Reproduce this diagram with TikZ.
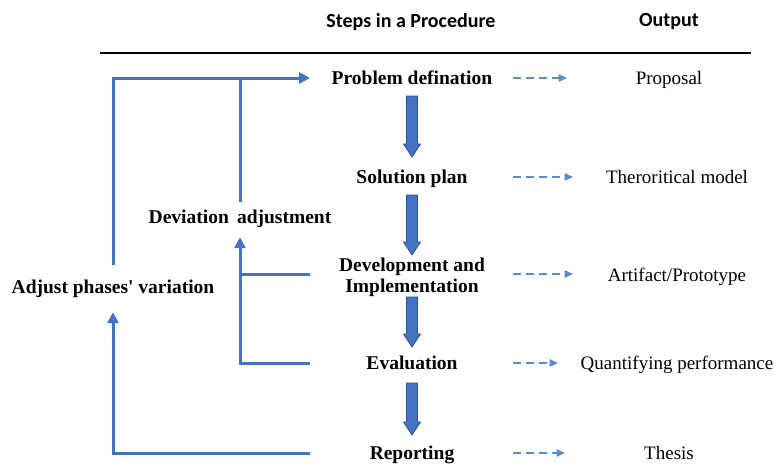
\documentclass[tikz,border=0pt]{standalone}
\usepackage{fontspec}
\setmainfont{Liberation Serif}
\newfontfamily\headfont{Carlito}
\usetikzlibrary{arrows.meta,calc}

\definecolor{flowblue}{HTML}{4472C4}
\definecolor{dashblue}{HTML}{5B8BD6}
\definecolor{edgeblue}{HTML}{2F528F}

\tikzset{
  header/.style={font=\headfont\bfseries\fontsize{20}{22}\selectfont, inner sep=0pt},
  % equal box heights keep every row's centre at the middle of the capitals
  rowtext/.style={inner sep=0pt, text height=17.5pt, text depth=4.5pt},
  stepnode/.style={rowtext, font=\bfseries\fontsize{19.5}{21}\selectfont, align=center},
  outnode/.style={rowtext, font=\fontsize{19}{21}\selectfont},
  sidenote/.style={font=\bfseries\fontsize{19.5}{21}\selectfont, inner sep=0pt, anchor=base},
  feedback/.style={draw=flowblue, line width=3pt},
  fbtip/.style={-{Triangle[width=11pt,length=11pt]}},
  outarrow/.style={draw=dashblue, line width=1.3pt, dash pattern=on 8pt off 5pt,
    -{Triangle[width=7.5pt,length=8.5pt]}},
  blockarrow/.style={fill=flowblue, draw=edgeblue, line width=0.8pt, line join=miter}
}

% block arrow running down from the first point to the second
\newcommand{\downblock}[2]{%
  \path[blockarrow] let \p1=#1, \p2=#2 in
    (\x1-5.5pt,\y1) -- (\x1+5.5pt,\y1) -- (\x1+5.5pt,\y2+13pt) -- (\x1+8.5pt,\y2+13pt)
    -- (\x1,\y2) -- (\x1-8.5pt,\y2+13pt) -- (\x1-5.5pt,\y2+13pt) -- cycle;}

\begin{document}
\begin{tikzpicture}[x=1pt,y=-1pt]
  \useasboundingbox (0,0) rectangle (775,464);

  % column headers and rule
  \node[header] (hsteps) at (411,22) {Steps in a Procedure};
  \node[header] (hout) at (669,22) {Output};
  \coordinate (ruleL) at (100,53);
  \coordinate (ruleR) at (751,53);
  \draw[line width=2.4pt] (ruleL) -- (ruleR);

  % steps
  \node[stepnode] (prob) at (412,78) {Problem defination};
  \node[stepnode] (sol)  at (412,177) {Solution plan};
  \node[stepnode, text height={}, text depth={}] (dev) at (412,277) {Development and\\Implementation};
  \node[stepnode] (eval) at (412,363) {Evaluation};
  \node[stepnode] (rep)  at (412,453) {Reporting};
  \coordinate (devrow) at ([yshift=3pt]dev.center);

  % outputs
  \node[outnode] (oprob) at (669,78)  {Proposal};
  \node[outnode] (osol)  at (677,177) {Theroritical model};
  \node[outnode] (odev)  at (677,274.5) {Artifact/Prototype};
  \node[outnode] (oeval) at (677,363) {Quantifying performance};
  \node[outnode] (orep)  at (669,453) {Thesis};

  % side labels; box height sets where the loop lines stop
  \node[sidenote, text height=21pt, text depth=14pt] (devadj) at (240,223) {Deviation\, adjustment};
  \node[sidenote, text height=28pt, text depth=19pt] (adj) at (113,293) {Adjust phases\textquotesingle\ variation};

  % block arrows between steps
  \coordinate (acol) at (412,0);
  \downblock{(acol |- 0,96)}{(acol |- 0,157)}
  \downblock{(acol |- 0,195)}{(acol |- 0,255)}
  \downblock{(acol |- 0,297)}{(acol |- 0,347)}
  \downblock{(acol |- 0,383)}{(acol |- 0,435)}

  % dashed arrows to outputs
  \coordinate (dcol) at (513,0);
  \draw[outarrow] (prob -| dcol)   -- ++(54,0);
  \draw[outarrow] (sol -| dcol)    -- ++(60,0);
  \draw[outarrow] (devrow -| dcol) -- ++(60,0);
  \draw[outarrow] (eval -| dcol)   -- ++(45,0);
  \draw[outarrow] (rep -| dcol)    -- ++(52,0);

  % feedback loops
  \coordinate (fcol) at (310,0);
  \draw[feedback, fbtip] (adj.north) |- (prob -| fcol);
  \draw[feedback] (devadj.north) -- (devadj.north |- prob);
  \draw[feedback, fbtip] (eval -| fcol) -| (devadj.south);
  \draw[feedback] (devrow -| fcol) -- (devrow -| devadj.south);
  \draw[feedback, fbtip] (rep -| fcol) -| (adj.south);
\end{tikzpicture}
\end{document}
